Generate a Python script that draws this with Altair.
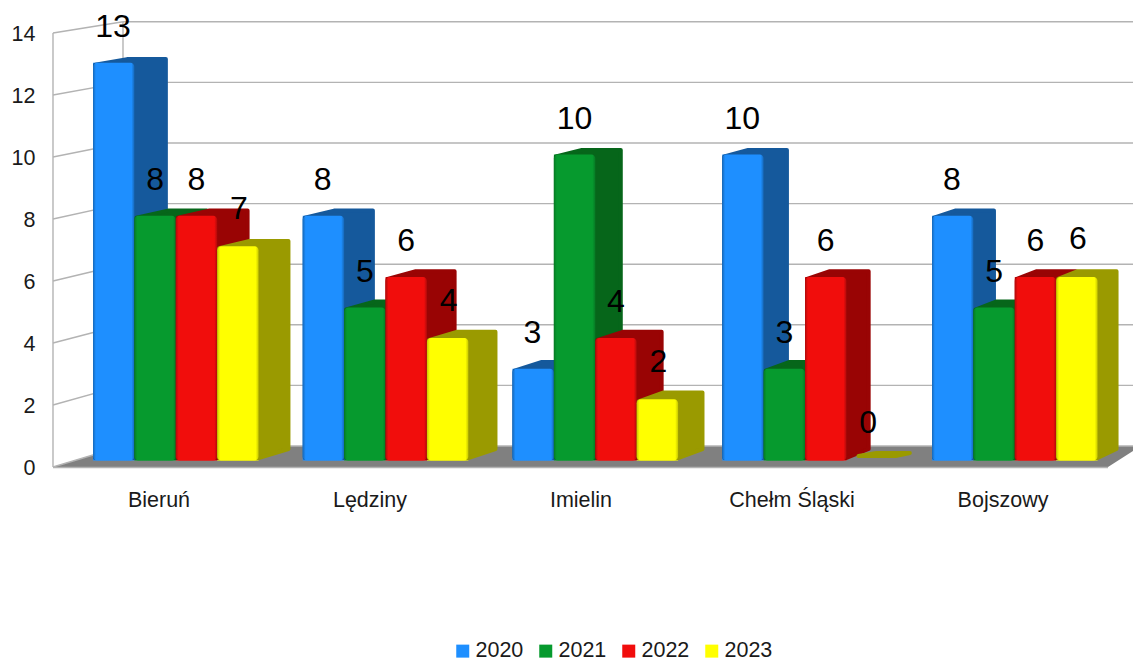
import altair as alt
import pandas as pd

categories = ["Bieruń", "Lędziny", "Imielin", "Chełm Śląski", "Bojszowy"]
series = ["2020", "2021", "2022", "2023"]
v2020 = [13, 8, 3, 10, 8]
v2021 = [8, 5, 10, 3, 5]
v2022 = [8, 6, 4, 6, 6]
v2023 = [7, 4, 2, 0, 6]
values = [v2020, v2021, v2022, v2023]
colors = ["#1E8FFF", "#069A2E", "#F10D0C", "#FFFF00"]
edge = ["#1668B8", "#067A24", "#B00A0A", "#C8C800"]
dark = ["#15599C", "#06661A", "#990404", "#9A9A00"]
FONT = "Liberation Sans"

# projection: plot-space helpers turning pixel-like layout into scale units
OX, OY, XU, YU = 53.0, 467.0, 211.0, 31.0
W, H = 1080, 459
def ux(p): return (p - OX) / XU
def uy(p): return (OY - p) / YU
def back_x(x): return 127 + (x - 93) * 0.987
def front_top(v): return 460.5 - 30.6 * v
def back_top(v): return 451 - 30.3 * v

GROUP_STEP, BAR_W = 209.75, 41.4
LABEL_LIFT = [36, 36, 36, 37.5]
LABEL_SHIFT = [-0.7, 0, 0, 1]
R = 2  # half of the hull's round stroke

fronts, hulls, labels = [], [], []
for s, name in enumerate(series):
    for g, cat in enumerate(categories):
        v = values[s][g]
        x0 = 93 + g * GROUP_STEP + s * BAR_W
        x1 = x0 + BAR_W
        if v == 0:
            pts = [(x0 + 12, 456, 456), (x0 + 30, 453, 456), (x1 + 8, 453, 456), (x1 + 22, 453, 453)]
        else:
            yf, yb = front_top(v), back_top(v)
            fronts.append(dict(series=name, s=s, x=ux(x0), x2=ux(x1), y=uy(yf), y2=uy(460.5)))
            pts = [(x0 + R, yf + R, 458), (back_x(x0), yb + R, 458), (x1, yb + R, 458), (back_x(x1) - R, yb + R, 449)]
        pts = sorted(pts, key=lambda p: p[0])
        for i, (px, up, lo) in enumerate(pts):
            hulls.append(dict(series=name, s=s, bar=f"{s}-{g}", i=i, x=ux(px), y=uy(up), y2=uy(lo)))
        labels.append(dict(x=ux((x0 + x1) / 2 + LABEL_SHIFT[s]), y=uy(front_top(v) - LABEL_LIFT[s]), t=str(v)))

fronts = pd.DataFrame(fronts)
hulls = pd.DataFrame(hulls)
labels = pd.DataFrame(labels)

ticks = list(range(0, 15, 2))
walls = pd.DataFrame(
    [dict(x=ux(53), x2=ux(123), y=uy(467 - 31 * t), y2=uy(446 - 30.3 * t)) for t in ticks]
    + [dict(x=ux(123), x2=ux(1141), y=uy(446 - 30.3 * t), y2=uy(446 - 30.3 * t)) for t in ticks]
    + [dict(x=ux(53), x2=ux(53), y=uy(467), y2=uy(33)),
       dict(x=ux(123), x2=ux(123), y=uy(446), y2=uy(22)),
       dict(x=ux(53), x2=ux(1108), y=uy(467.5), y2=uy(467.5))]
)
floor = pd.DataFrame([
    dict(x=ux(53), y=uy(467), y2=uy(467)),
    dict(x=ux(123), y=uy(446), y2=uy(467)),
    dict(x=ux(1108), y=uy(446), y2=uy(467)),
    dict(x=ux(1141), y=uy(446), y2=uy(446)),
])

xs = alt.Scale(domain=[0, W / XU], range=[0, W], nice=False, zero=False)
ys = alt.Scale(domain=[0, H / YU], range=[H, 0], nice=False, zero=False)
X = alt.X("x:Q", scale=xs)
Y = alt.Y("y:Q", scale=ys)
X2 = alt.X2("x2:Q")
Y2 = alt.Y2("y2:Q")

names_js = "[" + ",".join(f"'{c}'" for c in categories) + "]"
x_axis = alt.Axis(values=[i + 0.5 for i in range(5)], labelExpr=f"{names_js}[round(datum.value-0.5)]",
                  ticks=False, domain=False, grid=False, title=None, labelPadding=22,
                  labelFontSize=21.5, labelFont=FONT, labelColor="#1a1a1a", labelOverlap=False, labelFlush=False)
y_axis = alt.Axis(values=ticks, ticks=False, domain=False, grid=False, title=None, labelPadding=18, labelOffset=1,
                  labelFontSize=21.5, labelFont=FONT, labelColor="#1a1a1a", labelOverlap=False, labelFlush=False)

floor_l = alt.Chart(floor).mark_area(color="#808080").encode(
    x=alt.X("x:Q", scale=xs, axis=x_axis), y=alt.Y("y:Q", scale=ys, axis=y_axis), y2=Y2)
wall_l = alt.Chart(walls).mark_rule(color="#b3b3b3", strokeWidth=1.4).encode(x=X, x2=X2, y=Y, y2=Y2)
legend_l = alt.Chart(fronts).mark_rect().encode(
    x=X, x2=X2, y=Y, y2=Y2,
    color=alt.Color("series:N", scale=alt.Scale(domain=series, range=colors),
                    legend=alt.Legend(orient="none", legendX=399, legendY=632, direction="horizontal",
                                      columns=4, title=None, symbolType="square", symbolSize=169,
                                      symbolStrokeWidth=0, labelFont=FONT, labelFontSize=21.5,
                                      labelColor="#1a1a1a", labelOffset=2, columnPadding=11, padding=0)))

layers = [floor_l, wall_l, legend_l]
for s, name in enumerate(series):
    hull = alt.Chart(hulls[hulls.s == s]).mark_area(
        color=dark[s], stroke=dark[s], strokeWidth=2 * R, strokeJoin="round").encode(
        x=X, y=Y, y2=Y2, detail="bar:N")
    grad = alt.Gradient(gradient="linear", x1=0, x2=1, y1=0, y2=0, stops=[
        alt.GradientStop(color=edge[s], offset=0),
        alt.GradientStop(color=colors[s], offset=0.07),
        alt.GradientStop(color=colors[s], offset=0.93),
        alt.GradientStop(color=edge[s], offset=1)])
    front = alt.Chart(fronts[fronts.s == s]).mark_rect(color=grad, cornerRadius=4).encode(
        x=X, x2=X2, y=Y, y2=Y2)
    layers += [hull, front]

text_l = alt.Chart(labels).mark_text(font=FONT, fontSize=32, color="#000000", baseline="middle", align="center").encode(
    x=X, y=Y, text="t:N")
layers.append(text_l)

chart = alt.layer(*layers).properties(
    width=W, height=H, padding={"left": 45, "top": 0, "right": 0, "bottom": 194},
    autosize=alt.AutoSizeParams(type="none"),
    background="#ffffff",
).configure_view(stroke=None)

chart.save("out.html", embed_options={"renderer": "svg", "actions": False})
